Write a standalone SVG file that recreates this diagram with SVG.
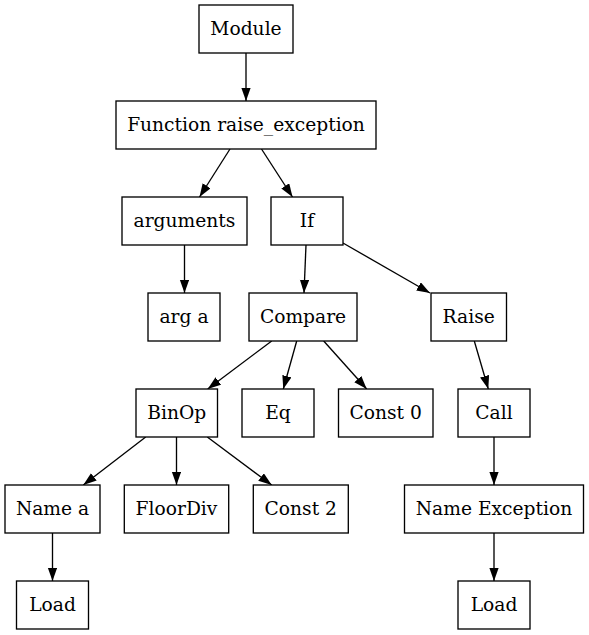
<svg xmlns="http://www.w3.org/2000/svg" width="589" height="635" viewBox="0 0 589 635">
<style>
.n rect{fill:#fff;stroke:#000;stroke-width:1.33}
.n text{font-family:"DejaVu Serif",serif;font-size:18.67px;text-anchor:middle;fill:#000}
.e line{stroke:#000;stroke-width:1.33;marker-end:url(#ah)}
</style>
<defs>
<marker id="ah" markerUnits="userSpaceOnUse" markerWidth="14" markerHeight="10" refX="13.3" refY="4.7" orient="auto">
<path d="M0,0 L13.3,4.7 L0,9.4 z" fill="#000"/>
</marker>
</defs>
<rect width="589" height="635" fill="#fff"/>
<g id="edges" class="e">
<line x1="246" y1="53" x2="246" y2="101"/>
<line x1="230" y1="149" x2="199.5" y2="197"/>
<line x1="261.5" y1="149" x2="292.5" y2="197"/>
<line x1="184.5" y1="245" x2="184.5" y2="293"/>
<line x1="306" y1="245" x2="304" y2="293"/>
<line x1="343" y1="243" x2="430" y2="293"/>
<line x1="271.7" y1="341" x2="207.7" y2="389"/>
<line x1="296.7" y1="341" x2="283.3" y2="389"/>
<line x1="323.7" y1="341" x2="366.7" y2="389"/>
<line x1="474.3" y1="341" x2="488.3" y2="389"/>
<line x1="145.7" y1="437" x2="83.3" y2="485"/>
<line x1="176.5" y1="437" x2="176.5" y2="485"/>
<line x1="207.3" y1="437" x2="271.7" y2="485"/>
<line x1="494" y1="437" x2="494" y2="485"/>
<line x1="52.5" y1="533" x2="52.5" y2="581"/>
<line x1="494" y1="533" x2="494" y2="581"/>
</g>
<g id="module" class="n"><rect x="199" y="5" width="94" height="48"/><text x="246" y="34.6">Module</text></g>
<g id="function" class="n"><rect x="116" y="101" width="260" height="48"/><text x="246" y="130.6">Function raise_exception</text></g>
<g id="arguments" class="n"><rect x="122" y="197" width="125" height="48"/><text x="184.5" y="226.6">arguments</text></g>
<g id="if" class="n"><rect x="271" y="197" width="72" height="48"/><text x="307" y="226.6">If</text></g>
<g id="arg_a" class="n"><rect x="148" y="293" width="72" height="48"/><text x="184" y="322.6">arg a</text></g>
<g id="compare" class="n"><rect x="249" y="293" width="108" height="48"/><text x="303" y="322.6">Compare</text></g>
<g id="raise" class="n"><rect x="431" y="293" width="75.5" height="48"/><text x="468.7" y="322.6">Raise</text></g>
<g id="binop" class="n"><rect x="136" y="389" width="81.5" height="48"/><text x="176.7" y="418.6">BinOp</text></g>
<g id="eq" class="n"><rect x="242" y="389" width="72" height="48"/><text x="278" y="418.6">Eq</text></g>
<g id="const0" class="n"><rect x="338.5" y="389" width="94.5" height="48"/><text x="385.7" y="418.6">Const 0</text></g>
<g id="call" class="n"><rect x="458" y="389" width="72" height="48"/><text x="494" y="418.6">Call</text></g>
<g id="name_a" class="n"><rect x="5" y="485" width="95" height="48"/><text x="52.5" y="514.6">Name a</text></g>
<g id="floordiv" class="n"><rect x="124.3" y="485" width="104.4" height="48"/><text x="176.5" y="514.6">FloorDiv</text></g>
<g id="const2" class="n"><rect x="253.3" y="485" width="95" height="48"/><text x="300.8" y="514.6">Const 2</text></g>
<g id="name_exception" class="n"><rect x="404.5" y="485" width="179" height="48"/><text x="494" y="514.6">Name Exception</text></g>
<g id="load1" class="n"><rect x="16.5" y="581" width="72" height="48"/><text x="52.5" y="610.6">Load</text></g>
<g id="load2" class="n"><rect x="458" y="581" width="72" height="48"/><text x="494" y="610.6">Load</text></g>
</svg>
